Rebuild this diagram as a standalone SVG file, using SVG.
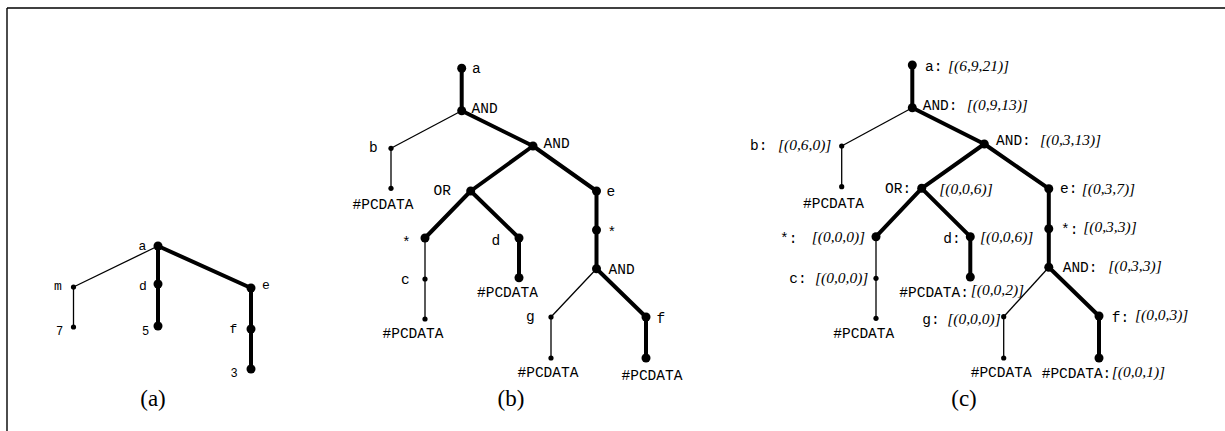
<svg xmlns="http://www.w3.org/2000/svg" width="1225" height="431" viewBox="0 0 1225 431">
<style>
.frame{stroke:#000;stroke-width:1.4;fill:none}
.tk{stroke:#000;stroke-width:4;stroke-linecap:round;fill:none}
.tn{stroke:#000;stroke-width:1.3;fill:none}
.big{fill:#000}
.sm{fill:#000}
.m{font-family:"Liberation Mono","Courier New",monospace;font-size:14.5px;fill:#000}
.ma{font-family:"Liberation Mono","Courier New",monospace;font-size:13px;fill:#000}
.md{font-family:"Liberation Mono","Courier New",monospace;font-size:12px;fill:#000}
.it{font-family:"Liberation Serif","Times New Roman",serif;font-style:italic;font-size:15.5px;fill:#000}
.cap{font-family:"Liberation Serif","Times New Roman",serif;font-size:23px;fill:#000;text-anchor:middle}
</style>
<g id="frame">
<line class="frame" x1="7" y1="8" x2="1225" y2="8"/>
<line class="frame" x1="7" y1="8" x2="7" y2="431"/>
</g>
<g id="connectors">
<!-- (a) -->
<line class="tn" x1="158" y1="246" x2="73.5" y2="287"/>
<line class="tn" x1="73.5" y1="287" x2="73.5" y2="327"/>
<line class="tk" x1="158" y1="246" x2="158" y2="326"/>
<line class="tk" x1="158" y1="246" x2="251" y2="288"/>
<line class="tk" x1="251" y1="288" x2="251" y2="369"/>
<!-- (b) -->
<line class="tk" x1="461.7" y1="68.3" x2="461.7" y2="110.7"/>
<line class="tn" x1="461.7" y1="110.7" x2="391" y2="148.3"/>
<line class="tn" x1="391" y1="148.3" x2="391" y2="188.3"/>
<line class="tk" x1="461.7" y1="110.7" x2="533" y2="146"/>
<line class="tk" x1="533" y1="146" x2="470.7" y2="191"/>
<line class="tk" x1="533" y1="146" x2="596.5" y2="191"/>
<line class="tk" x1="470.7" y1="191" x2="425" y2="238"/>
<line class="tk" x1="470.7" y1="191" x2="519" y2="238"/>
<line class="tn" x1="425" y1="238" x2="425" y2="319"/>
<line class="tk" x1="519" y1="238" x2="519" y2="277.7"/>
<line class="tk" x1="596.5" y1="191" x2="596.5" y2="268.7"/>
<line class="tn" x1="596.5" y1="268.7" x2="551" y2="317"/>
<line class="tn" x1="551" y1="317" x2="551" y2="358"/>
<line class="tk" x1="596.5" y1="268.7" x2="646" y2="317"/>
<line class="tk" x1="646" y1="317" x2="646" y2="358"/>
<!-- (c) -->
<line class="tk" x1="912.3" y1="65" x2="912.3" y2="107.7"/>
<line class="tn" x1="912.3" y1="107.7" x2="841.7" y2="146"/>
<line class="tn" x1="841.7" y1="146" x2="841.7" y2="186.7"/>
<line class="tk" x1="912.3" y1="107.7" x2="984.3" y2="144"/>
<line class="tk" x1="984.3" y1="144" x2="921.7" y2="188.3"/>
<line class="tk" x1="984.3" y1="144" x2="1048.8" y2="188.7"/>
<line class="tk" x1="921.7" y1="188.3" x2="876" y2="236.7"/>
<line class="tk" x1="921.7" y1="188.3" x2="970.3" y2="236.7"/>
<line class="tn" x1="876" y1="236.7" x2="876" y2="318.3"/>
<line class="tk" x1="970.3" y1="236.7" x2="970.3" y2="277"/>
<line class="tk" x1="1048.8" y1="188.7" x2="1048.8" y2="267.3"/>
<line class="tn" x1="1048.8" y1="267.3" x2="1003.7" y2="316.7"/>
<line class="tn" x1="1003.7" y1="316.7" x2="1003.7" y2="358"/>
<line class="tk" x1="1048.8" y1="267.3" x2="1099" y2="316"/>
<line class="tk" x1="1099" y1="316" x2="1099" y2="358"/>
</g>

<!-- (a) nodes -->
<g id="a-a"><circle class="big" cx="158" cy="246" r="4.5"/><text class="ma" x="138.5" y="249.5">a</text></g>
<g id="a-m"><circle class="sm" cx="73.5" cy="287" r="2.6"/><text class="ma" x="54" y="290">m</text></g>
<g id="a-d"><circle class="big" cx="158" cy="284" r="4.5"/><text class="ma" x="139" y="290">d</text></g>
<g id="a-7"><circle class="sm" cx="73.5" cy="327" r="2.6"/><text class="md" x="56" y="335">7</text></g>
<g id="a-5"><circle class="big" cx="158" cy="326" r="4.5"/><text class="md" x="142" y="335">5</text></g>
<g id="a-e"><circle class="big" cx="251" cy="288" r="4.5"/><text class="ma" x="262" y="288.5">e</text></g>
<g id="a-f"><circle class="big" cx="251" cy="329" r="4.5"/><text class="ma" x="229.5" y="332.5">f</text></g>
<g id="a-3"><circle class="big" cx="251" cy="369" r="4.5"/><text class="md" x="230.5" y="376.5">3</text></g>
<text class="cap" x="153" y="406">(a)</text>

<!-- (b) nodes -->
<g id="b-a"><circle class="big" cx="461.7" cy="68.3" r="4.5"/><text class="m" x="472" y="73">a</text></g>
<g id="b-and1"><circle class="big" cx="461.7" cy="110.7" r="4.5"/><text class="m" x="471.5" y="112.7">AND</text></g>
<g id="b-b"><circle class="sm" cx="391" cy="148.3" r="2.6"/><text class="m" x="369" y="152">b</text></g>
<g id="b-bp"><circle class="sm" cx="391" cy="188.3" r="2.6"/><text class="m" x="352.5" y="209">#PCDATA</text></g>
<g id="b-and2"><circle class="big" cx="533" cy="146" r="4.5"/><text class="m" x="543.5" y="148">AND</text></g>
<g id="b-or"><circle class="big" cx="470.7" cy="191" r="4.5"/><text class="m" x="433.5" y="195">OR</text></g>
<g id="b-e"><circle class="big" cx="596.5" cy="191" r="4.5"/><text class="m" x="606.5" y="195.5">e</text></g>
<g id="b-estar"><circle class="big" cx="596.5" cy="230" r="4.5"/><text class="m" x="607.5" y="236.5">*</text></g>
<g id="b-star"><circle class="big" cx="425" cy="238" r="4.5"/><text class="m" x="402" y="246.5">*</text></g>
<g id="b-d"><circle class="big" cx="519" cy="238" r="4.5"/><text class="m" x="491.5" y="245">d</text></g>
<g id="b-c"><circle class="sm" cx="425" cy="279" r="2.6"/><text class="m" x="401" y="284">c</text></g>
<g id="b-cp"><circle class="sm" cx="425" cy="319" r="2.6"/><text class="m" x="382.5" y="338">#PCDATA</text></g>
<g id="b-dp"><circle class="big" cx="519" cy="277.7" r="4.5"/><text class="m" x="477" y="297">#PCDATA</text></g>
<g id="b-and3"><circle class="big" cx="596.5" cy="268.7" r="4.5"/><text class="m" x="608.5" y="274">AND</text></g>
<g id="b-g"><circle class="sm" cx="551" cy="317" r="2.6"/><text class="m" x="526" y="321">g</text></g>
<g id="b-gp"><circle class="sm" cx="551" cy="358" r="2.6"/><text class="m" x="517.5" y="377">#PCDATA</text></g>
<g id="b-f"><circle class="big" cx="646" cy="317" r="4.5"/><text class="m" x="656.5" y="322.5">f</text></g>
<g id="b-fp"><circle class="big" cx="646" cy="358" r="4.5"/><text class="m" x="621.5" y="380">#PCDATA</text></g>
<text class="cap" x="511" y="406">(b)</text>

<!-- (c) nodes -->
<g id="c-a"><circle class="big" cx="912.3" cy="65" r="4.5"/><text class="m" x="925" y="71">a:</text><text class="it" x="948" y="70.5">[(6,9,21)]</text></g>
<g id="c-and1"><circle class="big" cx="912.3" cy="107.7" r="4.5"/><text class="m" x="922.7" y="109.5">AND:</text><text class="it" x="966.7" y="109.5">[(0,9,13)]</text></g>
<g id="c-b"><circle class="sm" cx="841.7" cy="146" r="2.6"/><text class="m" x="750" y="150">b:</text><text class="it" x="778" y="149.5">[(0,6,0)]</text></g>
<g id="c-bp"><circle class="sm" cx="841.7" cy="186.7" r="2.6"/><text class="m" x="803" y="208">#PCDATA</text></g>
<g id="c-and2"><circle class="big" cx="984.3" cy="144" r="4.5"/><text class="m" x="996" y="145">AND:</text><text class="it" x="1040" y="144.5">[(0,3,13)]</text></g>
<g id="c-or"><circle class="big" cx="921.7" cy="188.3" r="4.5"/><text class="m" x="885" y="192.7">OR:</text><text class="it" x="939.3" y="194">[(0,0,6)]</text></g>
<g id="c-star"><circle class="big" cx="876" cy="236.7" r="4.5"/><text class="m" x="780" y="242.5">*:</text><text class="it" x="811.7" y="242">[(0,0,0)]</text></g>
<g id="c-d"><circle class="big" cx="970.3" cy="236.7" r="4.5"/><text class="m" x="943.3" y="242.7">d:</text><text class="it" x="980" y="242">[(0,0,6)]</text></g>
<g id="c-c"><circle class="sm" cx="876" cy="278.3" r="2.6"/><text class="m" x="789.3" y="283.3">c:</text><text class="it" x="815" y="283">[(0,0,0)]</text></g>
<g id="c-cp"><circle class="sm" cx="876" cy="318.3" r="2.6"/><text class="m" x="833.3" y="338">#PCDATA</text></g>
<g id="c-dp"><circle class="big" cx="970.3" cy="277" r="4.5"/><text class="m" x="899.3" y="296.7">#PCDATA:</text><text class="it" x="970.7" y="295">[(0,0,2)]</text></g>
<g id="c-e"><circle class="big" cx="1048.8" cy="188.7" r="4.5"/><text class="m" x="1060" y="193.3">e:</text><text class="it" x="1081.7" y="193.5">[(0,3,7)]</text></g>
<g id="c-estar"><circle class="big" cx="1048.8" cy="228.7" r="4.5"/><text class="m" x="1061" y="233.5">*:</text><text class="it" x="1083.3" y="231.5">[(0,3,3)]</text></g>
<g id="c-and3"><circle class="big" cx="1048.8" cy="267.3" r="4.5"/><text class="m" x="1062.7" y="272">AND:</text><text class="it" x="1108.3" y="271">[(0,3,3)]</text></g>
<g id="c-g"><circle class="sm" cx="1003.7" cy="316.7" r="2.6"/><text class="m" x="922.3" y="324">g:</text><text class="it" x="947.3" y="323.5">[(0,0,0)]</text></g>
<g id="c-gp"><circle class="sm" cx="1003.7" cy="358" r="2.6"/><text class="m" x="970.7" y="376.7">#PCDATA</text></g>
<g id="c-f"><circle class="big" cx="1099" cy="316" r="4.5"/><text class="m" x="1111.7" y="321.7">f:</text><text class="it" x="1135" y="320">[(0,0,3)]</text></g>
<g id="c-fp"><circle class="big" cx="1099" cy="358" r="4.5"/><text class="m" x="1041.7" y="378">#PCDATA:</text><text class="it" x="1111.7" y="377">[(0,0,1)]</text></g>
<text class="cap" x="964" y="406">(c)</text>
</svg>
